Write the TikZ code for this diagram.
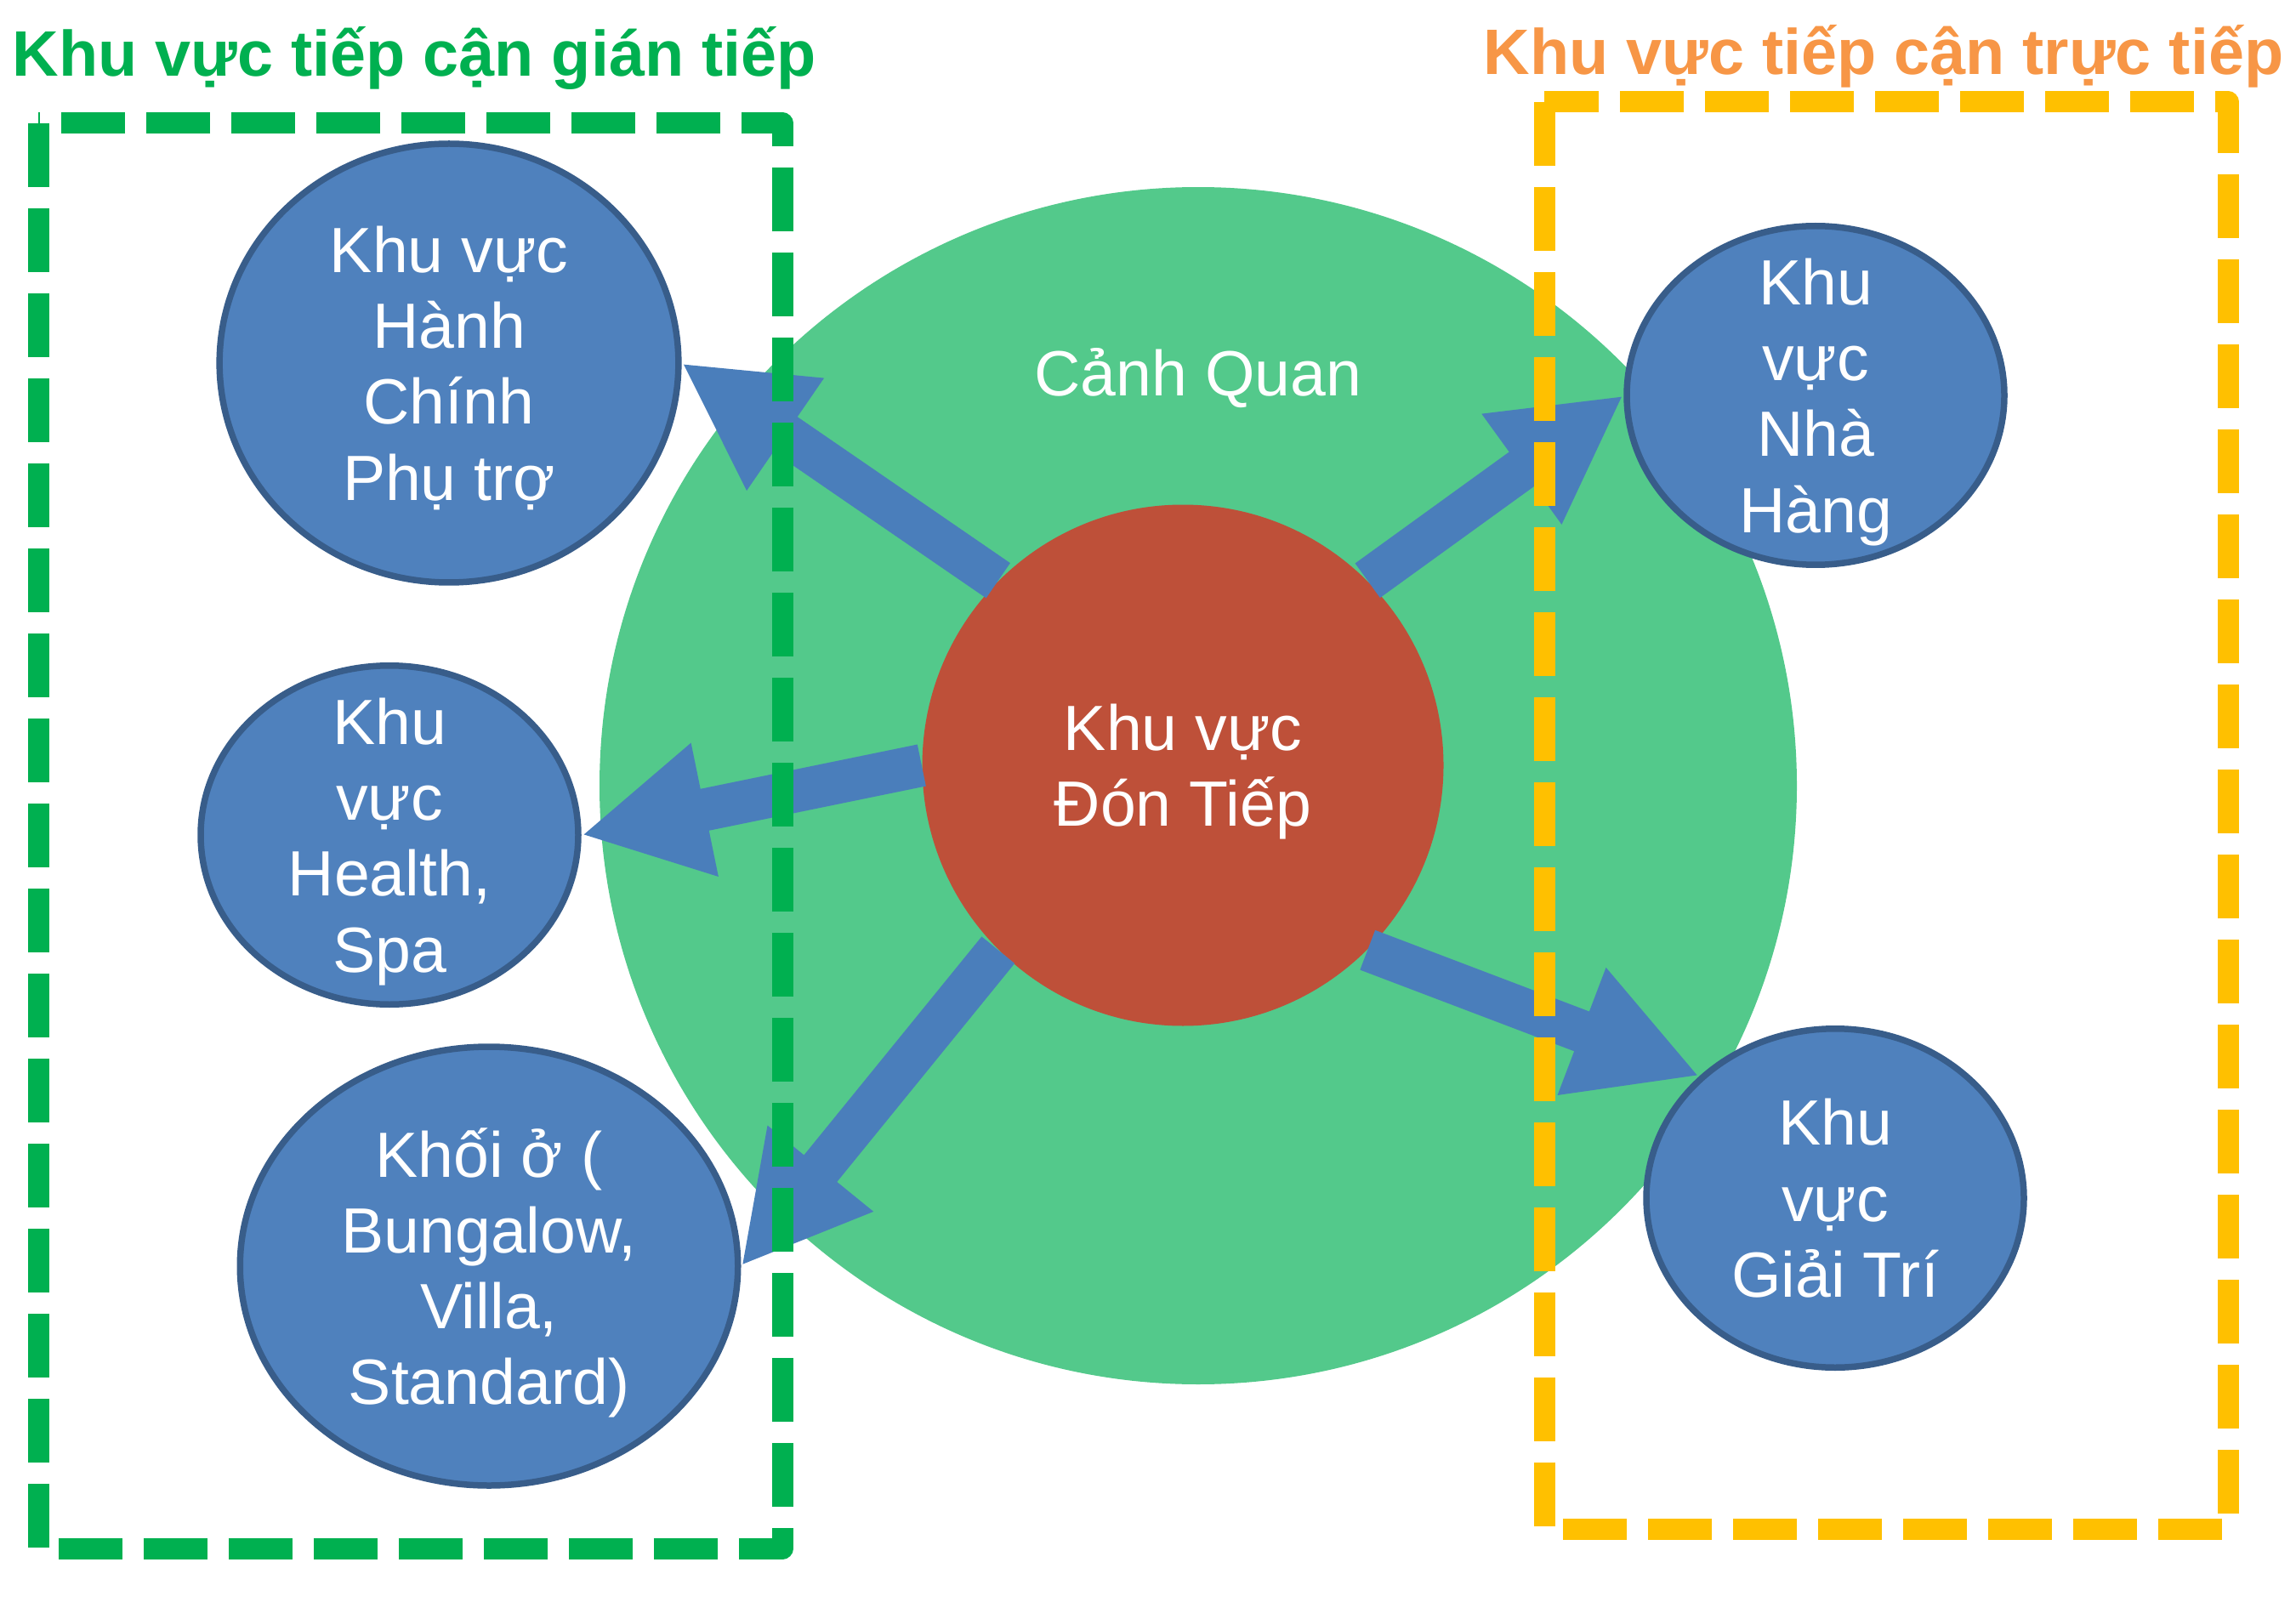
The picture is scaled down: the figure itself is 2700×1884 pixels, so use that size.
\documentclass[tikz,border=0pt]{standalone}
\usepackage{fontspec}
\setmainfont{Liberation Sans}
\usetikzlibrary{arrows.meta}
\usetikzlibrary{shapes.geometric}
\definecolor{landgreen}{RGB}{83,201,139}
\definecolor{recvred}{RGB}{190,80,57}
\definecolor{areablue}{RGB}{79,129,189}
\definecolor{areaedge}{RGB}{56,93,138}
\definecolor{flowblue}{RGB}{74,126,187}
\definecolor{boxgreen}{RGB}{0,176,80}
\definecolor{boxorange}{RGB}{255,192,0}
\definecolor{titleorange}{RGB}{247,150,70}

\begin{document}
\begin{tikzpicture}[x=0.1mm, y=-0.1mm,
  bigtext/.style={text=white, align=center, inner sep=0, text depth=0pt, font=\fontsize{21.4}{25.4}\selectfont},
  area/.style={ellipse, fill=areablue, draw=areaedge, line width=0.75mm, inner sep=0},
  flow/.style={flowblue, line width=5mm, -{Triangle[width=14.9mm, length=14.8mm]}},
  zonebox/.style={line width=2.5mm, dash pattern=on 7.5mm off 2.5mm, line join=round},
  title/.style={inner sep=0, font=\bfseries\fontsize{21.5}{25.5}\selectfont}]
\useasboundingbox (0,0) rectangle (2700,1884);
\node[circle, fill=landgreen, minimum size=140.8mm, inner sep=0] (land) at (1409,924) {};
\node[bigtext] (landtext) at (1409,437) {Cảnh Quan};
\node[circle, fill=recvred, minimum size=61.3mm, bigtext] (recv) at (1391,900) {Khu vực\\Đón Tiếp};
\node[area, minimum width=53.97mm, minimum height=51.6mm] (admin) at (528,427) {};
\node[area, minimum width=44.4mm, minimum height=39.85mm] (spa) at (458,982) {};
\node[area, minimum width=58.55mm, minimum height=51.6mm] (stay) at (575,1489) {};
\node[area, minimum width=44.4mm, minimum height=39.85mm] (dine) at (2135,465) {};
\node[area, minimum width=44.4mm, minimum height=39.85mm] (fun) at (2158,1409) {};
\node[bigtext] (admintext) at (admin) {Khu vực\\Hành\\Chính\\Phụ trợ};
\node[bigtext] (spatext) at (spa) {Khu\\vực\\Health,\\Spa};
\node[bigtext] (staytext) at (stay) {Khối ở (\\Bungalow,\\Villa,\\Standard)};
\node[bigtext] (dinetext) at (dine) {Khu\\vực\\Nhà\\Hàng};
\node[bigtext] (funtext) at (fun) {Khu\\vực\\Giải Trí};
\draw[flow] (recv.north west) -- (admin.east);
\draw[flow] (recv.west) -- (spa.east);
\draw[flow] (recv.south west) -- (stay.east);
\draw[flow] (recv.north east) -- (dine.west);
\draw[flow] (recv.south east) -- (fun.north west);
\draw[zonebox, boxgreen] (45,145) rectangle (920,1821);
\draw[zonebox, boxorange] (1816,120) rectangle (2620,1798);
\node[title, text=boxgreen, anchor=base west] (indirect) at (14,90) {Khu vực tiếp cận gián tiếp};
\node[title, text=titleorange, anchor=base east] (direct) at (2686,88) {Khu vực tiếp cận trực tiếp};
\end{tikzpicture}
\end{document}
